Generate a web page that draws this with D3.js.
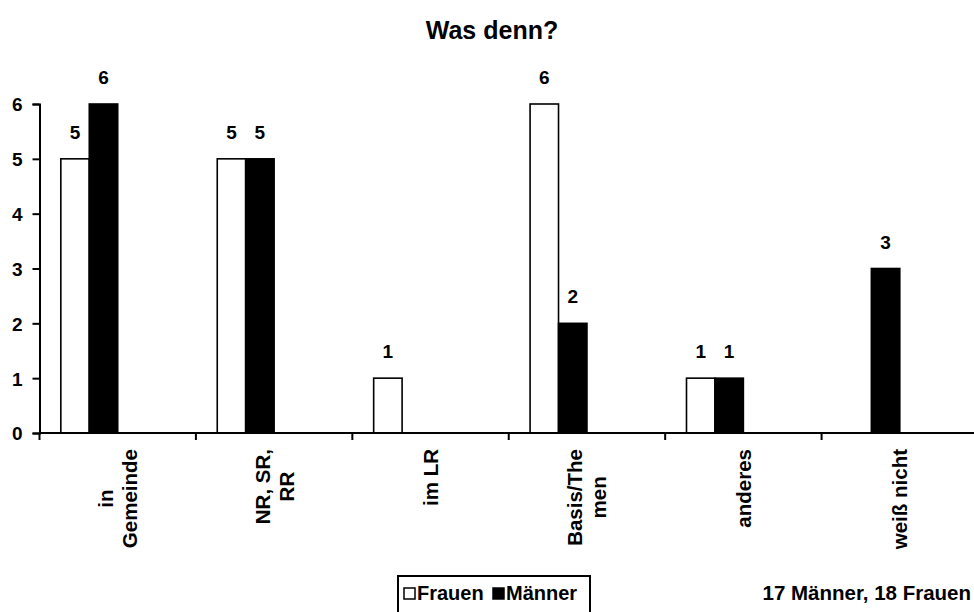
<!DOCTYPE html>
<html>
<head>
<meta charset="utf-8">
<script src="https://cdn.jsdelivr.net/npm/d3@7"></script>
<style>
  html, body { margin: 0; padding: 0; background: #fff; }
  svg { display: block; font-family: "Liberation Sans", Arial, sans-serif; font-weight: bold; }
</style>
</head>
<body>
<svg id="chart" width="974" height="612"></svg>
<script>
// Survey answers: "Was denn?" split by gender
const categories = ["in Gemeinde", "NR, SR, RR", "im LR", "Basis/Themen", "anderes", "weiß nicht"];
const categoryLines = [["in", "Gemeinde"], ["NR, SR,", "RR"], ["im LR"], ["Basis/The", "men"], ["anderes"], ["weiß nicht"]];
const seriesNames = ["Frauen", "Männer"];
const frauen = [5, 5, 1, 6, 1, null];
const maenner = [6, 5, null, 2, 1, 3];
const yTicks = [0, 1, 2, 3, 4, 5, 6];
const title = "Was denn?";
const note = "17 Männer, 18 Frauen";

const svg = d3.select("#chart");
const plotLeft = 39.5, plotRight = 978, plotTop = 104, plotBottom = 433;
const fills = ["#fff", "#000"];
const fs = "20.5px";

const x = d3.scaleBand().domain(categories).range([plotLeft, plotRight]).padding(0);
// four series slots per category (two unused), gap width 150%
const slot = d3.scaleBand().domain([0, 1, 2, 3]).range([0, x.bandwidth()]).paddingOuter(0.75).paddingInner(0);
const y = d3.scaleLinear().domain([0, 6]).range([plotBottom, plotTop]);

// title
svg.append("text").attr("x", 492).attr("y", 39).attr("text-anchor", "middle")
  .style("font-size", "25px").text(title);

// bars with value labels
const data = [frauen, maenner];
data.forEach((vals, si) => {
  const g = svg.append("g");
  categories.forEach((c, i) => {
    const v = vals[i];
    if (v == null) return;
    const bx = x(c) + slot(si);
    g.append("rect")
      .attr("x", bx).attr("y", y(v))
      .attr("width", slot.bandwidth()).attr("height", y(0) - y(v))
      .attr("fill", fills[si]).attr("stroke", "#000").attr("stroke-width", 1.6);
    g.append("text")
      .attr("x", bx + slot.bandwidth() / 2).attr("y", y(v) - 20)
      .attr("text-anchor", "middle").style("font-size", "19px").text(v);
  });
});

// y axis
const yAxis = svg.append("g").attr("transform", `translate(${plotLeft},0)`)
  .call(d3.axisLeft(y).tickValues(yTicks).tickFormat(d3.format("d"))
    .tickSizeOuter(0).tickSize(7).tickPadding(10));
yAxis.selectAll("text").style("font-size", "19px").style("font-family", "inherit")
  .style("font-weight", "bold").attr("fill", "#000").attr("dy", "0.36em");
yAxis.selectAll("line, path").attr("stroke", "#000").attr("stroke-width", 2);

// x axis: ticks at category boundaries
const xAxis = svg.append("g").attr("transform", `translate(0,${plotBottom})`);
xAxis.append("line").attr("x1", plotLeft).attr("x2", 974).attr("stroke", "#000").attr("stroke-width", 2);
xAxis.selectAll("line.tick").data(categories).enter().append("line").attr("class", "tick")
  .attr("x1", d => x(d)).attr("x2", d => x(d)).attr("y1", 0).attr("y2", 7)
  .attr("stroke", "#000").attr("stroke-width", 2);

// rotated, wrapped category labels
categories.forEach((c, i) => {
  const lines = categoryLines[i];
  const cx = x(c) + x.bandwidth() / 2;
  const t = svg.append("text").attr("transform", `translate(${cx},449) rotate(-90)`)
    .style("font-size", fs).attr("text-anchor", "middle");
  const widths = lines.map(l => {
    const s = svg.append("text").style("font-size", fs).text(l);
    const w = s.node().getComputedTextLength(); s.remove(); return w;
  });
  const maxW = d3.max(widths);
  const lh = 24;
  lines.forEach((l, j) => {
    t.append("tspan").attr("x", -maxW / 2)
      .attr("y", (j - (lines.length - 1) / 2) * lh + 7.5).text(l);
  });
});

// legend
const lg = svg.append("g");
lg.append("rect").attr("x", 398).attr("y", 576).attr("width", 192).attr("height", 45)
  .attr("fill", "#fff").attr("stroke", "#000").attr("stroke-width", 2);
const items = [{ x: 404, tx: 417 }, { x: 493, tx: 506 }];
seriesNames.forEach((n, i) => {
  lg.append("rect").attr("x", items[i].x).attr("y", 588).attr("width", 11).attr("height", 11)
    .attr("fill", fills[i]).attr("stroke", "#000").attr("stroke-width", 1.5);
  lg.append("text").attr("x", items[i].tx).attr("y", 600).style("font-size", "20px").text(n);
});

svg.append("text").attr("x", 971).attr("y", 600).attr("text-anchor", "end")
  .style("font-size", fs).text(note);
</script>
</body>
</html>
